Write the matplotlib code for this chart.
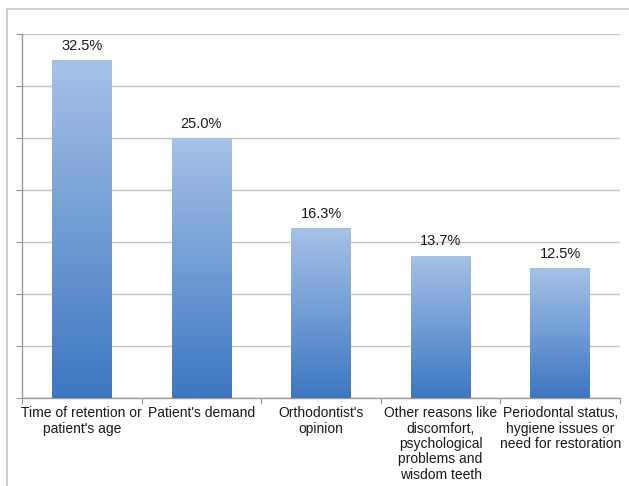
import numpy as np
import matplotlib
matplotlib.use("Agg")
import matplotlib.pyplot as plt
from matplotlib.colors import LinearSegmentedColormap
from matplotlib.lines import Line2D

categories = [
    "Time of retention or\npatient's age",
    "Patient's demand",
    "Orthodontist's\nopinion",
    "Other reasons like\ndiscomfort,\npsychological\nproblems and\nwisdom teeth",
    "Periodontal status,\nhygiene issues or\nneed for restoration",
]
values = [32.5, 25.0, 16.3, 13.7, 12.5]
value_labels = ["32.5%", "25.0%", "16.3%", "13.7%", "12.5%"]

plt.rcParams['font.family'] = ['Liberation Sans', 'DejaVu Sans']

fig = plt.figure(figsize=(6.29, 4.86), dpi=100)
ax = fig.add_axes([22/629, 1-398/486, 598/629, 364/486])

x = np.arange(len(values))
bars = ax.bar(x, values, width=0.5, color='none', edgecolor='none', zorder=3)

cmap = LinearSegmentedColormap.from_list('g', ['#3d76c2', '#a6c2e6'])
grad = np.linspace(0, 1, 256).reshape(-1, 1)
for b in bars:
    x0, y0 = b.get_x(), b.get_y()
    w, h = b.get_width(), b.get_height()
    im = ax.imshow(grad, cmap=cmap, origin='lower', aspect='auto',
                   extent=(x0, x0 + w, y0, y0 + h), zorder=3)
    im.set_clip_path(b)

for xi, v, lab in zip(x, values, value_labels):
    ax.text(xi, v + 0.7, lab, ha='center', va='bottom', fontsize=10.5, color='#1a1a1a')

ax.set_xlim(-0.5, len(values) - 0.5)
ax.set_ylim(0, 35)
ax.set_yticks(np.arange(0, 36, 5))
ax.set_yticklabels([])
ax.yaxis.grid(True, color='#c4c4c4', linewidth=1.0)
ax.set_axisbelow(True)

ax.set_xticks(np.arange(-0.5, len(values), 1.0))
ax.set_xticklabels([])
ax.set_xticks(x, minor=True)
ax.set_xticklabels(categories, minor=True, fontsize=10, color='#1a1a1a', linespacing=1.12, va='top')
ax.tick_params(axis='x', which='minor', length=0, pad=6)
ax.tick_params(axis='x', which='major', length=4, direction='out', color='#9a9a9a')
ax.tick_params(axis='y', length=4, direction='out', color='#9a9a9a')

for s in ['top', 'right']:
    ax.spines[s].set_visible(False)
for s in ['left', 'bottom']:
    ax.spines[s].set_color('#9a9a9a')
    ax.spines[s].set_linewidth(1.0)

# outer chart-area border
fig.add_artist(Line2D([7/629, 7/629], [0, 1-9/486], transform=fig.transFigure, color='#c8c8c8', lw=1.2))
fig.add_artist(Line2D([7/629, 1], [1-9/486, 1-9/486], transform=fig.transFigure, color='#c8c8c8', lw=1.2))

fig.savefig('out.png', dpi=100)
